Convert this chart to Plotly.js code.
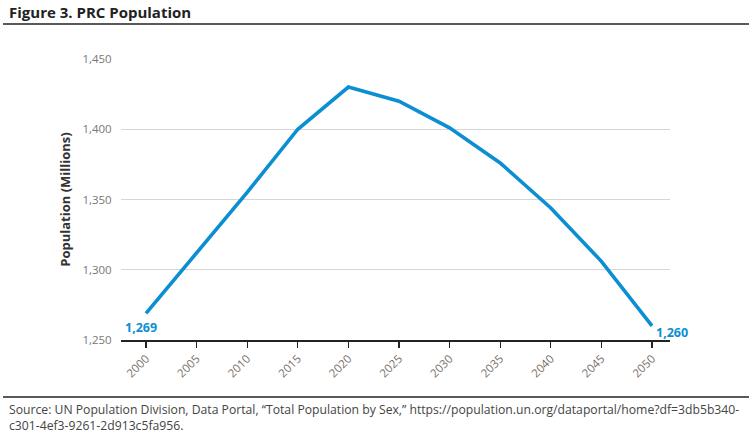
<!DOCTYPE html>
<html>
<head>
<meta charset="utf-8">
<script src="https://cdn.plot.ly/plotly-3.0.1.min.js"></script>
<style>html,body{margin:0;padding:0;background:#fff;}#chart{width:754px;height:436px;}</style>
</head>
<body>
<div id="chart"></div>
<script>
const years = [2000, 2005, 2010, 2015, 2020, 2025, 2030, 2035, 2040, 2045, 2050];
const population = [1269, 1312, 1355, 1400, 1430, 1420, 1401, 1376, 1344, 1306, 1260];
const yTicks = [1250, 1300, 1350, 1400, 1450];
const yTickLabels = ['1,250', '1,300', '1,350', '1,400', '1,450'];
const titleText = 'Figure 3. PRC Population';
const yTitle = 'Population (Millions)';
const sourceText = 'Source: UN Population Division, Data Portal, \u201cTotal Population by Sex,\u201d https://population.un.org/dataportal/home?df=3db5b340-<br>c301-4ef3-9261-2d913c5fa956.';

const L = 121, R = 670, T = 59, B = 340, W = 754, H = 436;
const px = x => (x - L) / (R - L);
const py = y => (B - y) / (B - T);
const blue = '#0b8fd2';
const font = 'Open Sans, Lato, sans-serif';

const trace = {
  x: years, y: population, type: 'scatter', mode: 'lines',
  line: {color: blue, width: 3.6}, hoverinfo: 'skip'
};

const fmt = v => v.toLocaleString('en-US');
const last = years.length - 1;

const layout = {
  width: W, height: H,
  margin: {l: L, r: W - R, t: T, b: H - B},
  paper_bgcolor: '#fff', plot_bgcolor: '#fff',
  showlegend: false,
  font: {family: font, color: '#666'},
  xaxis: {
    range: [1997.53, 2051.78],
    tickmode: 'array', tickvals: years, ticktext: years.map(String),
    tickangle: -45, tickfont: {size: 11.5, color: '#7a6f6a'},
    ticks: 'outside', ticklen: 6, tickcolor: '#222', tickwidth: 1.3,
    showline: true, linecolor: '#222', linewidth: 1.5,
    showgrid: false, zeroline: false, fixedrange: true
  },
  yaxis: {
    range: [1250, 1450],
    tickmode: 'array', tickvals: yTicks, ticktext: yTickLabels,
    tickfont: {size: 11.5, color: '#777'},
    ticks: 'outside', ticklen: 6, tickcolor: 'rgba(0,0,0,0)',
    showgrid: true, gridcolor: '#d6d6d6', gridwidth: 1,
    zeroline: false, showline: false, fixedrange: true,
    title: {text: '<b>' + yTitle + '</b>', font: {size: 13, color: '#333', family: font}, standoff: 8}
  },
  shapes: [
    {type: 'line', xref: 'paper', yref: 'paper', x0: px(3), x1: px(749), y0: py(24), y1: py(24), line: {color: '#222', width: 1.4}},
    {type: 'line', xref: 'paper', yref: 'paper', x0: px(3), x1: px(749), y0: py(397), y1: py(397), line: {color: '#222', width: 1.4}}
  ],
  annotations: [
    {xref: 'paper', yref: 'paper', x: px(7), y: py(12), xanchor: 'left', yanchor: 'middle', showarrow: false,
     text: '<b>' + titleText + '</b>', font: {size: 15, color: '#222', family: font}},
    {xref: 'paper', yref: 'paper', x: px(7), y: py(399), xanchor: 'left', yanchor: 'top', showarrow: false, align: 'left',
     text: sourceText, font: {size: 12.2, color: '#444', family: font}},
    {x: years[0], y: population[0], xanchor: 'center', yanchor: 'top', yshift: -4, xshift: -5, showarrow: false,
     text: '<b>' + fmt(population[0]) + '</b>', font: {size: 12.5, color: blue, family: font}},
    {x: years[last], y: population[last], xanchor: 'left', yanchor: 'middle', xshift: 2, yshift: -7, showarrow: false,
     text: '<b>' + fmt(population[last]) + '</b>', font: {size: 12.5, color: blue, family: font}}
  ]
};

Plotly.newPlot('chart', [trace], layout, {displayModeBar: false, staticPlot: true});
</script>
</body>
</html>
